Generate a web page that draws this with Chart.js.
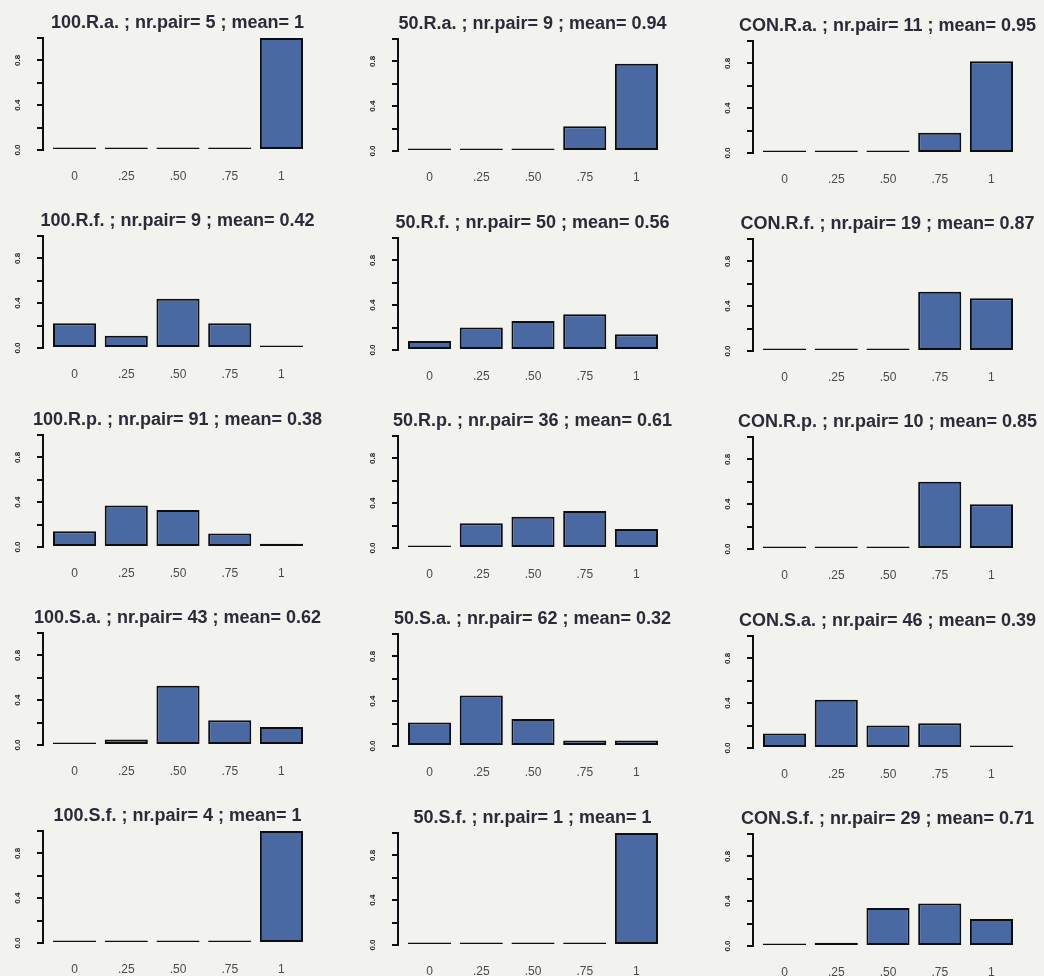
<!DOCTYPE html>
<html>
<head>
<meta charset="utf-8">
<script src="https://cdn.jsdelivr.net/npm/chart.js@4.4.0/dist/chart.umd.min.js"></script>
<style>
  html, body { margin: 0; padding: 0; background: #f2f2ee; overflow: hidden; }
  #grid { position: relative; width: 1044px; height: 976px; }
  #grid canvas { position: absolute; }
</style>
</head>
<body>
<div id="grid"></div>
<script>
// Score classes on the x axis
const categories = ['0', '.25', '.50', '.75', '1'];

// Panel rows (species) and columns (treatment)
const speciesCodes = ['R.a.', 'R.f.', 'R.p.', 'S.a.', 'S.f.'];
const treatments = ['100', '50', 'CON'];

// Number of pairs per panel [row][col]
const nrPairs = [
  [5, 9, 11],
  [9, 50, 19],
  [91, 36, 10],
  [43, 62, 46],
  [4, 1, 29]
];

// Mean score per panel [row][col]
const meanScores = [
  ['1', '0.94', '0.95'],
  ['0.42', '0.56', '0.87'],
  ['0.38', '0.61', '0.85'],
  ['0.62', '0.32', '0.39'],
  ['1', '1', '0.71']
];

// Proportion of pairs in each score class
const ra100 = [0, 0, 0, 0, 1.00];
const ra50  = [0, 0, 0, 0.22, 0.78];
const raCon = [0, 0, 0, 0.18, 0.82];
const rf100 = [0.22, 0.11, 0.44, 0.22, 0];
const rf50  = [0.08, 0.20, 0.26, 0.32, 0.14];
const rfCon = [0, 0, 0, 0.53, 0.47];
const rp100 = [0.14, 0.37, 0.33, 0.12, 0.03];
const rp50  = [0, 0.22, 0.28, 0.33, 0.17];
const rpCon = [0, 0, 0, 0.60, 0.40];
const sa100 = [0.02, 0.05, 0.53, 0.22, 0.16];
const sa50  = [0.21, 0.45, 0.24, 0.05, 0.05];
const saCon = [0.13, 0.43, 0.20, 0.22, 0.02];
const sf100 = [0, 0, 0, 0, 1.00];
const sf50  = [0, 0, 0, 0, 1.00];
const sfCon = [0, 0.03, 0.34, 0.38, 0.24];

const proportions = [
  [ra100, ra50, raCon],
  [rf100, rf50, rfCon],
  [rp100, rp50, rpCon],
  [sa100, sa50, saCon],
  [sf100, sf50, sfCon]
];

const FONT = '"Liberation Sans", Arial, Helvetica, sans-serif';
const INK = '#0e0e12';
const BAR_FILL = '#4a69a2';

const PANEL_W = 355, PANEL_H = 198, ROW_STEP = 198.3;
const colShiftY = [0, 1.3, 2.8];

const grid = document.getElementById('grid');

for (let r = 0; r < speciesCodes.length; r++) {
  for (let c = 0; c < treatments.length; c++) {
    const canvas = document.createElement('canvas');
    canvas.width = PANEL_W;
    canvas.height = PANEL_H;
    canvas.style.left = (PANEL_W * c) + 'px';
    canvas.style.top = Math.round(ROW_STEP * r + colShiftY[c]) + 'px';
    grid.appendChild(canvas);

    const title = treatments[c] + '.' + speciesCodes[r] + ' ; nr.pair= ' + nrPairs[r][c] +
                  ' ; mean= ' + meanScores[r][c];

    new Chart(canvas, {
      type: 'bar',
      data: {
        datasets: [{
          data: proportions[r][c].map((v, i) => ({ x: i, y: v })),
          backgroundColor: BAR_FILL,
          borderColor: INK,
          borderWidth: 2,
          borderSkipped: false,
          minBarLength: 2.5,
          categoryPercentage: 1,
          barPercentage: 1 / 1.2,
          clip: false
        }]
      },
      options: {
        responsive: false,
        animation: false,
        events: [],
        layout: { padding: 0 },
        plugins: {
          legend: { display: false },
          tooltip: { enabled: false },
          title: {
            display: true,
            text: title,
            color: '#2b2a38',
            font: { family: FONT, size: 18, weight: 'bold', lineHeight: 1.2 },
            padding: { top: 12, bottom: 4.4 }
          }
        },
        scales: {
          x: {
            type: 'linear',
            position: 'bottom',
            offset: false,
            min: -0.61,
            max: 4.61,
            grid: { display: false, drawTicks: false },
            border: { display: false },
            afterBuildTicks: s => { s.ticks = categories.map((_, i) => ({ value: i })); },
            afterFit: s => { s.height = 48; },
            ticks: {
              autoSkip: false,
              maxRotation: 0,
              padding: 19,
              color: '#4a4a4a',
              font: { family: FONT, size: 12 },
              callback: v => categories[v]
            }
          },
          y: {
            type: 'linear',
            position: 'left',
            min: 0,
            max: 1,
            grid: {
              display: true,
              drawOnChartArea: false,
              drawTicks: true,
              tickLength: 6,
              color: INK,
              lineWidth: 2
            },
            border: { display: true, color: INK, width: 2 },
            afterFit: s => { s.width = 43; },
            ticks: {
              stepSize: 0.2,
              minRotation: 90,
              maxRotation: 90,
              crossAlign: 'center',
              padding: 14,
              color: '#2a2a2a',
              font: { family: FONT, size: 8, weight: 'bold' },
              callback: v => (Math.round(v * 10) % 4 === 0 ? v.toFixed(1) : '')
            }
          },
          // empty right margin so the title stays centred on the panel
          margin: {
            type: 'linear',
            position: 'right',
            display: true,
            grid: { display: false, drawTicks: false },
            border: { display: false },
            ticks: { display: false },
            afterFit: s => { s.width = 42; }
          }
        }
      }
    });
  }
}
</script>
</body>
</html>
